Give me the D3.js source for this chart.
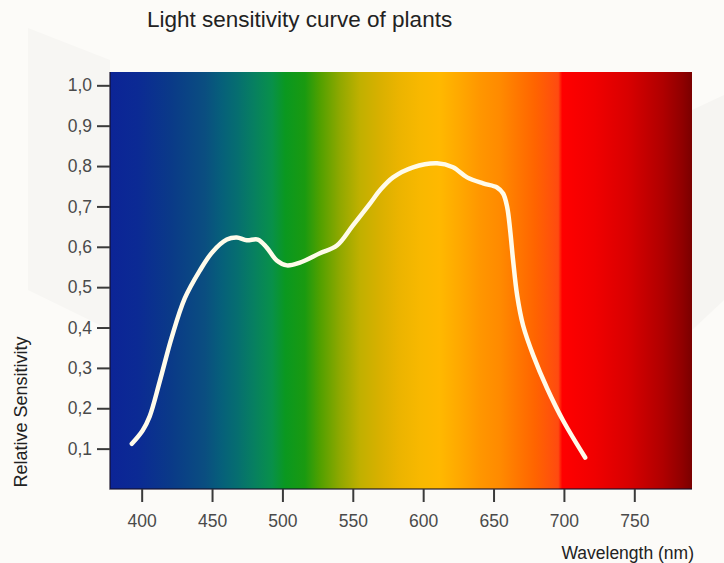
<!DOCTYPE html>
<html>
<head>
<meta charset="utf-8">
<script src="https://cdn.jsdelivr.net/npm/d3@7"></script>
<style>
  body { margin: 0; background: #fcfbf8; }
  svg { display: block; }
  text { font-family: "Liberation Sans", Arial, Helvetica, sans-serif; }
</style>
</head>
<body>
<svg id="chart" width="724" height="563"></svg>
<script>
// curve (wavelength in nm, relative sensitivity)
var wavelength = [393, 400.7, 405.7, 412.8, 421.3, 430.6, 441.3, 450.5, 460.5, 467.6, 474.7, 482.5, 488.9,
                  496, 503.2, 512.4, 526.6, 538.7, 550.1, 562.2, 569.3, 578.6, 592.8, 609.9, 621.2, 631.2,
                  642.6, 652.5, 656.8, 659.7, 661.8, 663.9, 666.8, 671, 678.2, 688.1, 699.5, 715.1];
var sensitivity = [0.112, 0.145, 0.180, 0.266, 0.375, 0.472, 0.541, 0.588, 0.618, 0.623, 0.616, 0.618, 0.598,
                   0.566, 0.554, 0.561, 0.584, 0.603, 0.653, 0.707, 0.740, 0.772, 0.797, 0.807, 0.797, 0.772,
                   0.757, 0.747, 0.732, 0.698, 0.641, 0.566, 0.479, 0.405, 0.331, 0.249, 0.169, 0.078];

var xTicks = [400, 450, 500, 550, 600, 650, 700, 750];
var yTicks = [0.1, 0.2, 0.3, 0.4, 0.5, 0.6, 0.7, 0.8, 0.9, 1.0];

// spectrum colours behind the curve
var spectreNm = [377.5, 397, 421, 445, 457, 468, 480, 492.5, 502, 516, 526.6, 541, 555, 569, 583.5, 598, 612,
                 626, 640.5, 654.7, 665, 679.6, 696, 698.8, 722, 745.7, 770, 784, 791];
var spectreCouleur = ["#0c2496", "#0b2a94", "#0a3a88", "#0a4e80", "#06607a", "#066e70", "#078060", "#08904a",
                      "#0a9820", "#1a9a10", "#50a000", "#90a800", "#c0b000", "#d8b000", "#ecb400", "#f8b800",
                      "#ffb800", "#ffa800", "#ff9600", "#ff8a00", "#ff7a00", "#ff6400", "#ff4a10", "#ff0000",
                      "#f00000", "#d80000", "#b00000", "#900000", "#7a0000"];

var marge = {haut: 72, droite: 32, bas: 74, gauche: 110};
var largeur = 724, hauteur = 563;

var xScale = d3.scaleLinear().domain([377.5, 791]).range([marge.gauche, largeur - marge.droite]);
var yScale = d3.scaleLinear().domain([0, 1.033]).range([hauteur - marge.bas, marge.haut]);

var svg = d3.select("#chart");

// faint watermark shapes in the background
svg.append("path")
    .attr("d", "M28,28 L110,60 L110,330 L28,290 Z")
    .style("fill", "#f7f6f3");
svg.append("path")
    .attr("d", "M692,110 L724,95 L724,300 L692,330 Z")
    .style("fill", "#f6f5f2");

var defs = svg.append("defs");
var grad = defs.append("linearGradient")
    .attr("id", "spectre")
    .attr("gradientUnits", "userSpaceOnUse")
    .attr("x1", xScale.range()[0]).attr("x2", xScale.range()[1])
    .attr("y1", 0).attr("y2", 0);
grad.selectAll("stop")
    .data(spectreNm)
    .enter()
    .append("stop")
    .attr("offset", function(d) {
        return (xScale(d) - xScale.range()[0]) / (xScale.range()[1] - xScale.range()[0]);
    })
    .attr("stop-color", function(d, i) { return spectreCouleur[i]; });

svg.append("rect")
    .attr("x", xScale.range()[0])
    .attr("y", yScale.range()[1])
    .attr("width", xScale.range()[1] - xScale.range()[0])
    .attr("height", yScale.range()[0] - yScale.range()[1])
    .style("fill", "url(#spectre)");

// dark edge on the left and bottom of the spectrum
svg.append("path")
    .attr("d", `M${xScale.range()[0]},${yScale.range()[1]} V${yScale.range()[0]} H${xScale.range()[1]}`)
    .style("fill", "none")
    .style("stroke", "rgba(20,15,40,0.75)")
    .style("stroke-width", 1.5);

var points = wavelength.map(function(d, i) { return [d, sensitivity[i]]; });

var ligne = d3.line()
    .x(function(d) { return xScale(d[0]); })
    .y(function(d) { return yScale(d[1]); })
    .curve(d3.curveCatmullRom.alpha(0.5));

svg.append("path")
    .datum(points)
    .attr("d", ligne)
    .style("fill", "none")
    .style("stroke", "#fffbea")
    .style("stroke-width", 4.5)
    .style("stroke-linecap", "round")
    .style("stroke-linejoin", "round");

var virgule = function(d) { return d.toFixed(1).replace(".", ","); };

var yAxis = g => g
    .attr("transform", `translate(${marge.gauche},0)`)
    .call(d3.axisLeft(yScale).tickValues(yTicks).tickFormat(virgule).tickSize(13).tickPadding(5));
var xAxis = g => g
    .attr("transform", `translate(0,${hauteur - marge.bas})`)
    .call(d3.axisBottom(xScale).tickValues(xTicks).tickSize(13).tickPadding(13));

[svg.append("g").call(yAxis), svg.append("g").call(xAxis)].forEach(function(g) {
    g.select(".domain").remove();
    g.selectAll(".tick line").style("stroke", "#3a3a3a").style("stroke-width", 2);
    g.selectAll(".tick text")
        .style("font-family", "'Liberation Sans', Arial, sans-serif")
        .style("font-size", "17.5px")
        .style("fill", "#4a4a4a");
});

svg.append("text")
    .attr("x", 147)
    .attr("y", 27)
    .style("font-size", "22.5px")
    .style("fill", "#222")
    .text("Light sensitivity curve of plants");

svg.append("text")
    .attr("transform", "translate(27,412) rotate(-90)")
    .style("text-anchor", "middle")
    .style("font-size", "18px")
    .style("fill", "#222")
    .text("Relative Sensitivity");

svg.append("text")
    .attr("x", 694)
    .attr("y", 559)
    .style("text-anchor", "end")
    .style("font-size", "17.5px")
    .style("fill", "#222")
    .text("Wavelength (nm)");
</script>
</body>
</html>
